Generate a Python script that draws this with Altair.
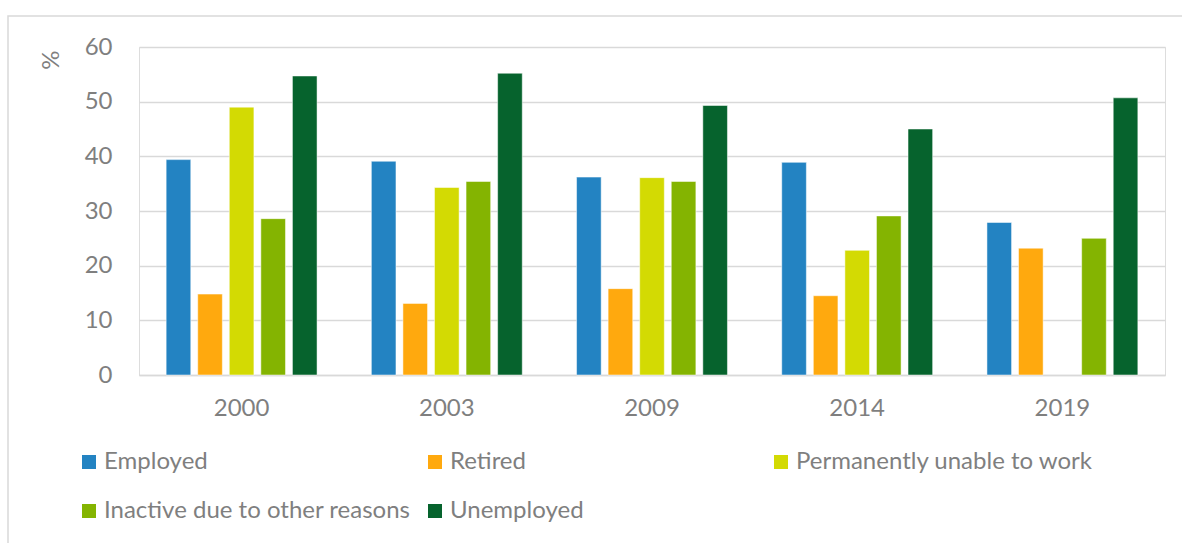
import altair as alt
import pandas as pd

years = ["2000", "2003", "2009", "2014", "2019"]
categories = ["Employed", "Retired", "Permanently unable to work",
              "Inactive due to other reasons", "Unemployed"]
colors = ["#2383C2", "#FFA90E", "#D3DA03", "#84B401", "#06632D"]

employed = [39.4, 39.1, 36.2, 38.9, 27.9]
retired = [14.8, 13.1, 15.8, 14.5, 23.2]
perm_unable = [49.0, 34.3, 36.1, 22.8, None]
inactive = [28.6, 35.4, 35.4, 29.1, 25.0]
unemployed = [54.7, 55.2, 49.3, 45.0, 50.7]

series = [employed, retired, perm_unable, inactive, unemployed]
rows = []
for cat, vals in zip(categories, series):
    for yr, v in zip(years, vals):
        if v is not None:
            rows.append({"year": yr, "cat": cat, "value": v})
df = pd.DataFrame(rows)

# legend fills column by column: order so that rows read like the reference
legend_order = [0, 3, 1, 4, 2]
leg_domain = [categories[i] for i in legend_order]
leg_range = [colors[i] for i in legend_order]

FONT = "Lato"
GREY = "#7F7F7F"
FS = 24
W, H = 1026, 328

bars = alt.Chart(df).mark_bar(stroke="white", strokeWidth=0.5).encode(
    x=alt.X("year:N", sort=years, title=None,
            scale=alt.Scale(paddingInner=0, paddingOuter=0),
            axis=alt.Axis(labelAngle=0, labelFont=FONT, labelFontSize=FS,
                          labelColor=GREY, labelPadding=21, ticks=False,
                          domain=True, domainColor="#D9D9D9", domainWidth=1.5,
                          grid=False)),
    xOffset=alt.XOffset("cat:N", sort=categories,
                        scale=alt.Scale(paddingInner=0.22, paddingOuter=0.86)),
    y=alt.Y("value:Q", title="%",
            scale=alt.Scale(domain=[0, 60], nice=False),
            axis=alt.Axis(values=[0, 10, 20, 30, 40, 50, 60], labelFont=FONT,
                          labelFontSize=FS, labelColor=GREY, labelPadding=27,
                          ticks=False, domain=False, gridColor="#D9D9D9",
                          gridWidth=1.5, titleFont=FONT, titleFontSize=FS,
                          titleColor=GREY, titleFontWeight="normal",
                          titleAnchor="end", titleAngle=-90,
                          titleX=-88, titleY=3, titleAlign="right",
                          titleBaseline="middle")),
    color=alt.Color("cat:N",
                    scale=alt.Scale(domain=leg_domain, range=leg_range),
                    legend=alt.Legend(title=None, orient="none",
                                      legendX=-62, legendY=403,
                                      columns=3, gridAlign="all",
                                      columnPadding=12, rowPadding=25,
                                      symbolType="square", symbolSize=196,
                                      symbolStrokeWidth=0, symbolOffset=0,
                                      labelFont=FONT, labelFontSize=FS,
                                      labelColor=GREY, labelOffset=3,
                                      labelLimit=400)),
)

border = alt.Chart(pd.DataFrame({"a": [0]})).mark_rect(
    fill=None, stroke="#D9D9D9", strokeWidth=1.5).encode(
    x=alt.value(-131), x2=alt.value(W + 60), y=alt.value(-31), y2=alt.value(H + 200)
)

chart = alt.layer(border, bars).properties(
    width=W, height=H,
    autosize=alt.AutoSizeParams(type="none"),
    padding={"left": 139, "top": 47, "right": 17, "bottom": 168},
).configure_view(stroke=None).configure(background="white")

chart.save("out.html", embed_options={"renderer": "svg", "actions": False})
